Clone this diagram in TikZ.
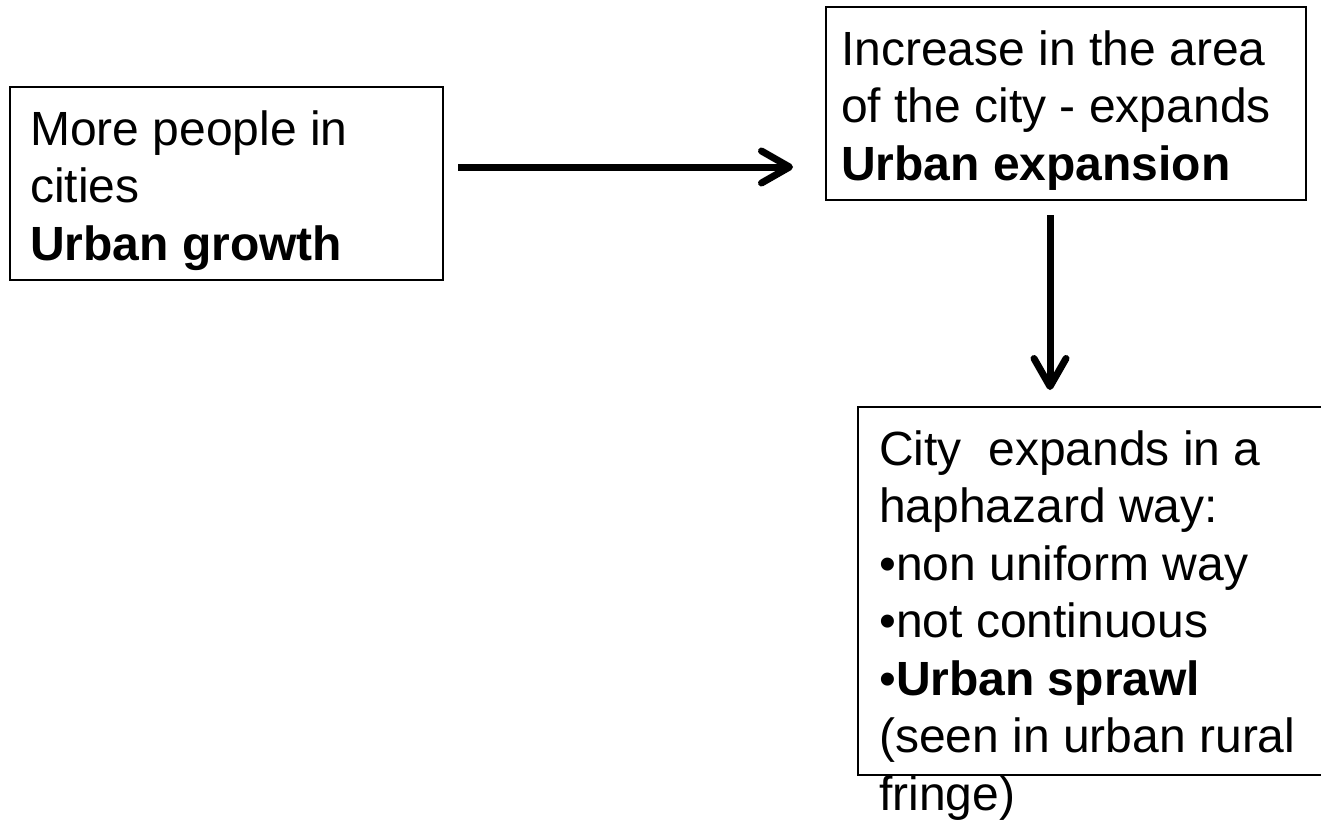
\documentclass[tikz,border=0pt]{standalone}
\usepackage{fontspec}
\setmainfont{Liberation Sans}
\usetikzlibrary{arrows.meta,calc}
\begin{document}
\begin{tikzpicture}[x=1pt,y=-1pt,
  boxline/.style={draw=black,line width=1.6pt},
  boxshape/.style={rectangle,inner sep=0pt,outer sep=0pt},
  txt/.style={anchor=base west,inner sep=0pt,align=left,font=\fontsize{48}{57.5}\selectfont},
  arr/.style={line width=7pt,-{Straight Barb[length=28pt,width=32pt,round]}}]
\useasboundingbox (0,0) rectangle (1321,820);
% boxes
\node[boxshape,boxline,minimum width=433pt,minimum height=193pt,anchor=north west] (box1) at (10,87) {};
\node[boxshape,boxline,minimum width=480pt,minimum height=193pt,anchor=north west] (box2) at (826,7) {};
\node[boxshape,minimum width=470pt,minimum height=368pt,anchor=north west] (box3) at (858,407) {};
\draw[boxline] (1321,407) -- (box3.north west) -- (box3.south west) -- (1321,775);
% texts (anchor = baseline of last line)
\node[txt] (t1) at (30,260) {More people in\\cities\\\textbf{Urban growth}};
\node[txt] (t2) at (841,180) {Increase in the area\\of the city - expands\\\textbf{Urban expansion}};
\node[txt] (t3) at (879,810) {City\ \ expands in a\\haphazard way:\\•non uniform way\\•not continuous\\•\textbf{Urban sprawl}\\(seen in urban rural\\fringe)};
% arrows
\coordinate (a1) at (0,167);
\coordinate (a2) at (1050,0);
\draw[arr,shorten <=15pt,shorten >=33pt] (box1.east |- a1) -- (box2.west |- a1);
\draw[arr,shorten <=15pt,shorten >=17pt] (box2.south -| a2) -- (box3.north -| a2);
\end{tikzpicture}
\end{document}
